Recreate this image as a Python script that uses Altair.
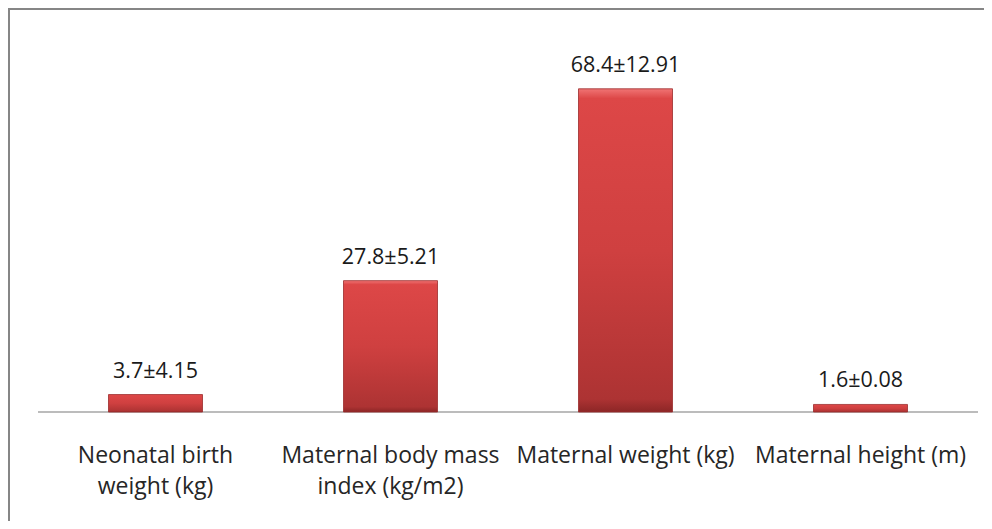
import altair as alt
import pandas as pd

categories = ["Neonatal birth\nweight (kg)", "Maternal body mass\nindex (kg/m2)",
              "Maternal weight (kg)", "Maternal height (m)"]
means = [3.7, 27.8, 68.4, 1.6]
sds = [4.15, 5.21, 12.91, 0.08]
value_labels = ["3.7±4.15", "27.8±5.21", "68.4±12.91", "1.6±0.08"]

df = pd.DataFrame({"cat": categories, "mean": means, "sd": sds, "label": value_labels})

W, H = 976, 513
FONT = "Open Sans"

xscale = alt.Scale(domain=categories, range=[30, 970], paddingInner=0.6, paddingOuter=0.3)
yscale = alt.Scale(domain=[0, 80], range=[404, 26])

base = alt.Chart(df)

grad = alt.Gradient(
    gradient="linear", x1=0, y1=0, x2=0, y2=1,
    stops=[
        alt.GradientStop(color="#f07474", offset=0),
        alt.GradientStop(color="#dd4747", offset=0.03),
        alt.GradientStop(color="#cf4040", offset=0.5),
        alt.GradientStop(color="#ad3333", offset=0.96),
        alt.GradientStop(color="#8c2626", offset=1),
    ],
)

bars = base.mark_bar(fill=grad, stroke="#9a2b2b", strokeWidth=0.8).encode(
    x=alt.X("cat:N", scale=xscale, axis=None, sort=categories),
    y=alt.Y("mean:Q", scale=yscale, axis=None),
)

baseline = alt.Chart(pd.DataFrame({"z": [0]})).mark_rule(color="#a6a6a6", strokeWidth=1.5).encode(
    x=alt.value(30), x2=alt.value(970), y=alt.Y("z:Q", scale=yscale, axis=None)
)

vals = base.mark_text(font=FONT, fontSize=21.5, color="#1a1a1a", baseline="alphabetic", dy=-17).encode(
    x=alt.X("cat:N", scale=xscale, axis=None, sort=categories),
    y=alt.Y("mean:Q", scale=yscale, axis=None),
    text="label:N",
)

cats = base.mark_text(font=FONT, fontSize=23, color="#262626", baseline="alphabetic",
                      lineBreak="\n", lineHeight=31).encode(
    x=alt.X("cat:N", scale=xscale, axis=None, sort=categories),
    y=alt.value(455),
    text="cat:N",
)

frame_left = alt.Chart(pd.DataFrame({"z": [0]})).mark_rule(color="#868686", strokeWidth=2).encode(
    x=alt.value(1), y=alt.value(0), y2=alt.value(H)
)
frame_top = alt.Chart(pd.DataFrame({"z": [0]})).mark_rule(color="#868686", strokeWidth=2).encode(
    x=alt.value(0), x2=alt.value(W), y=alt.value(1)
)

chart = alt.layer(frame_left, frame_top, baseline, bars, vals, cats).properties(
    width=W, height=H, autosize=alt.AutoSizeParams(type="none"), padding=0,
    background="white"
).configure_view(stroke=None)

chart.save("out.html", embed_options={"renderer": "svg", "actions": False})
